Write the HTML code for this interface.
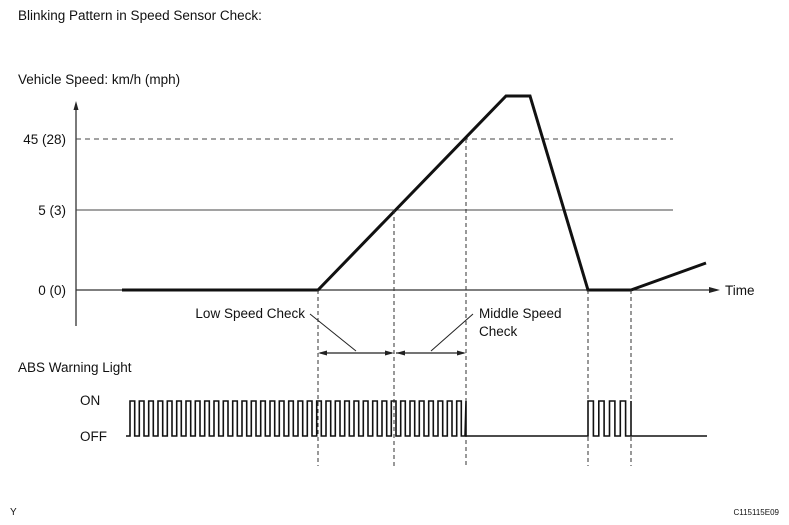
<!DOCTYPE html>
<html><head><style>html,body{margin:0;padding:0;background:#fff}svg{display:block}text{font-family:"Liberation Sans",sans-serif;fill:#111}</style></head>
<body>
<svg width="789" height="525" viewBox="0 0 789 525" xmlns="http://www.w3.org/2000/svg">
<text x="18" y="20" font-size="13.5">Blinking Pattern in Speed Sensor Check:</text>
<text x="18" y="84" font-size="13.5">Vehicle Speed: km/h (mph)</text>
<text x="66" y="144" font-size="13.5" text-anchor="end">45 (28)</text>
<text x="66" y="215" font-size="13.5" text-anchor="end">5 (3)</text>
<text x="66" y="295" font-size="13.5" text-anchor="end">0 (0)</text>
<line x1="76" y1="108" x2="76" y2="326" stroke="#222" stroke-width="1.2"/>
<polygon points="76,101 73.5,110 78.5,110" fill="#222"/>
<line x1="76" y1="139" x2="673" y2="139" stroke="#444" stroke-width="1" stroke-dasharray="5,4"/>
<line x1="76" y1="210" x2="673" y2="210" stroke="#444" stroke-width="1"/>
<line x1="76" y1="290" x2="712" y2="290" stroke="#333" stroke-width="1.2"/>
<polygon points="720,290 709,287 709,293" fill="#222"/>
<text x="725" y="295" font-size="13.5">Time</text>
<polyline points="122,290 318,290 506,96 530,96 588,290 631,290 706,263" fill="none" stroke="#111" stroke-width="3"/>
<g stroke="#333" stroke-width="1" stroke-dasharray="4,3">
<line x1="318" y1="290" x2="318" y2="466"/>
<line x1="394" y1="210" x2="394" y2="466"/>
<line x1="466" y1="139" x2="466" y2="466"/>
<line x1="588" y1="290" x2="588" y2="466"/>
<line x1="631" y1="290" x2="631" y2="466"/>
</g>
<text x="305" y="318" font-size="13.5" text-anchor="end">Low Speed Check</text>
<line x1="310" y1="314" x2="356" y2="351" stroke="#222"/>
<text x="479" y="318" font-size="13.5">Middle Speed</text>
<text x="479" y="336" font-size="13.5">Check</text>
<line x1="473" y1="314" x2="431" y2="351" stroke="#222"/>
<g stroke="#222" stroke-width="1.2">
<line x1="320" y1="353" x2="392" y2="353"/>
<line x1="396" y1="353" x2="464" y2="353"/>
</g>
<g fill="#222">
<polygon points="318,353 327,350.5 327,355.5"/>
<polygon points="394,353 385,350.5 385,355.5"/>
<polygon points="396,353 405,350.5 405,355.5"/>
<polygon points="466,353 457,350.5 457,355.5"/>
</g>
<text x="18" y="372" font-size="13.5">ABS Warning Light</text>
<text x="80" y="405" font-size="13.5">ON</text>
<text x="80" y="441" font-size="13.5">OFF</text>
<path id="pulse" fill="none" stroke="#111" stroke-width="1.6"/>
<text x="10" y="515" font-size="10">Y</text>
<text x="779" y="515" font-size="8" text-anchor="end">C115115E09</text>
</svg>
<script>
(function(){
var d="M126,436";var hi=401,lo=436;
var x0=130,x1=466,n=36,per=(x1-x0)/n;
for(var i=0;i<n;i++){var a=x0+i*per;d+=" L"+a.toFixed(1)+","+lo+" L"+a.toFixed(1)+","+hi+" L"+(a+per/2).toFixed(1)+","+hi+" L"+(a+per/2).toFixed(1)+","+lo;}
d+=" L"+(x1-1)+","+lo+" L"+x1+","+hi+" L"+x1+","+lo+" L588,"+lo;
var s=588,e=631,m=4,p2=(e-s)/m;
for(var j=0;j<m;j++){var b=s+j*p2;d+=" L"+b.toFixed(1)+","+hi+" L"+(b+p2/2).toFixed(1)+","+hi+" L"+(b+p2/2).toFixed(1)+","+lo+" L"+(b+p2).toFixed(1)+","+lo;}
d+=" L631,"+hi+" L631,"+lo+" L707,"+lo;
document.getElementById("pulse").setAttribute("d",d);
})();
</script>
</body></html>
